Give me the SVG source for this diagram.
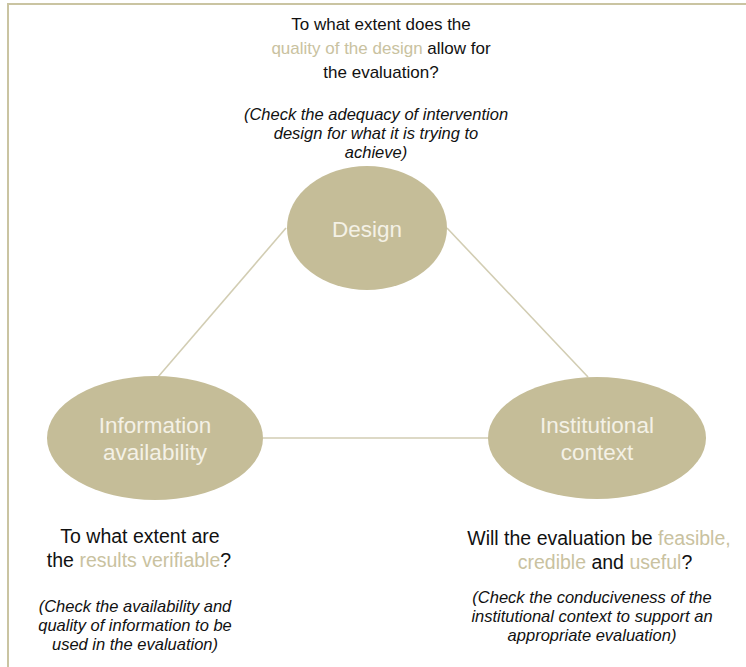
<svg xmlns="http://www.w3.org/2000/svg" width="746" height="667" viewBox="0 0 746 667">
<style>
.q{font-family:"Liberation Sans",Arial,sans-serif;font-size:17px;fill:#111;text-anchor:middle}
.qb{font-family:"Liberation Sans",Arial,sans-serif;font-size:19.5px;fill:#111;text-anchor:middle}
.h{fill:#c9c2a0}
.n{font-family:"Liberation Sans",Arial,sans-serif;font-size:16.5px;font-style:italic;fill:#111;text-anchor:middle}
.lbl{font-family:"Liberation Sans",Arial,sans-serif;font-size:22.5px;fill:#f4f1e6;text-anchor:middle}
.node{fill:#c5bd98}
.c{stroke:#d2cdb3;stroke-width:1.6;fill:none}
</style>
<rect width="746" height="667" fill="#fff"/>
<path d="M8,700 V4 H760" fill="none" stroke="#cac4a2" stroke-width="2"/>
<g id="connectors">
<line class="c" x1="286" y1="228" x2="158" y2="377"/>
<line class="c" x1="447" y1="228" x2="588" y2="377"/>
<line class="c" x1="263" y1="438" x2="489" y2="438"/>
</g>
<g id="design">
<ellipse class="node" cx="367" cy="228" rx="80" ry="62"/>
<text class="lbl" x="367" y="237">Design</text>
</g>
<g id="information">
<ellipse class="node" cx="155" cy="438" rx="108" ry="62"/>
<text class="lbl" x="155" y="433">Information</text>
<text class="lbl" x="155" y="460">availability</text>
</g>
<g id="institutional">
<ellipse class="node" cx="597" cy="438" rx="109" ry="61"/>
<text class="lbl" x="597" y="433">Institutional</text>
<text class="lbl" x="597" y="460">context</text>
</g>
<g id="design-text">
<text class="q" x="381" y="30">To what extent does the</text>
<text class="q" x="381" y="54"><tspan class="h">quality of the design</tspan> allow for</text>
<text class="q" x="381" y="78">the evaluation?</text>
<text class="n" x="376" y="120">(Check the adequacy of intervention</text>
<text class="n" x="376" y="139">design for what it is trying to</text>
<text class="n" x="376" y="158">achieve)</text>
</g>
<g id="information-text">
<text class="qb" x="140" y="543">To what extent are</text>
<text class="qb" x="139" y="567">the <tspan class="h">results verifiable</tspan>?</text>
<text class="n" x="135" y="612">(Check the availability and</text>
<text class="n" x="135" y="631">quality of information to be</text>
<text class="n" x="135" y="650">used in the evaluation)</text>
</g>
<g id="institutional-text">
<text class="qb" x="599" y="545">Will the evaluation be <tspan class="h">feasible,</tspan></text>
<text class="qb" x="605" y="569"><tspan class="h">credible</tspan> and <tspan class="h">useful</tspan>?</text>
<text class="n" x="592" y="603">(Check the conduciveness of the</text>
<text class="n" x="592" y="622">institutional context to support an</text>
<text class="n" x="592" y="641">appropriate evaluation)</text>
</g>
</svg>
